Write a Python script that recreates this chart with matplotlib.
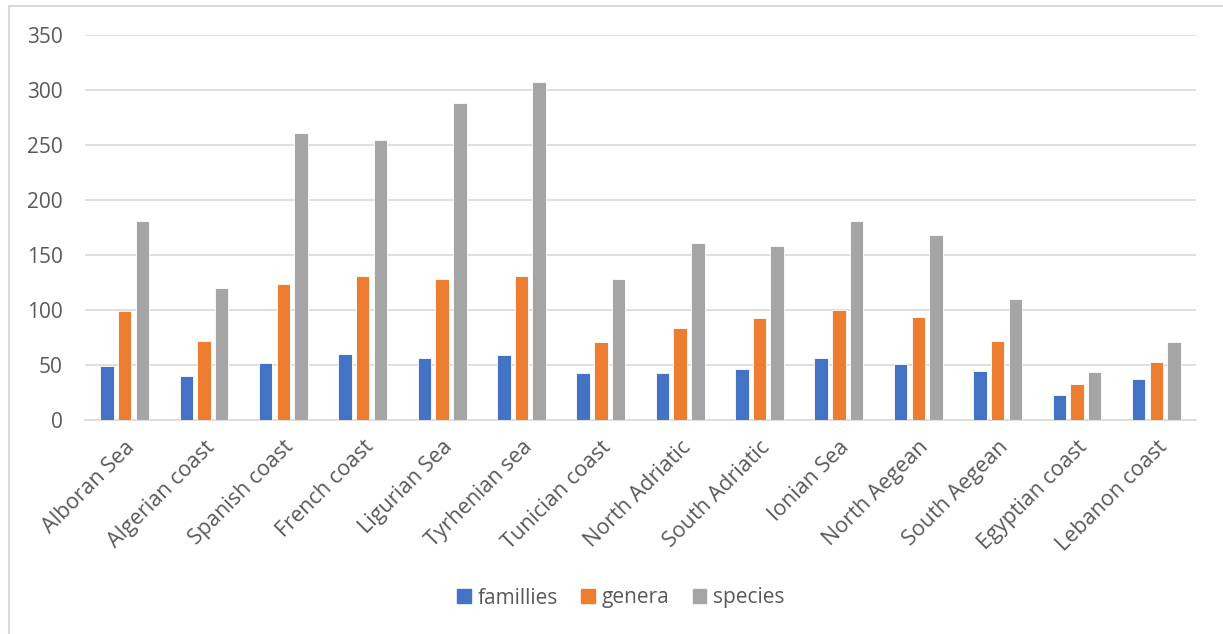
import matplotlib.pyplot as plt
import matplotlib.patches as mpatches
import numpy as np

plt.rcParams['font.family'] = ['Open Sans', 'DejaVu Sans']

regions = ["Alboran Sea", "Algerian coast", "Spanish coast", "French coast",
           "Ligurian Sea", "Tyrhenian sea", "Tunician coast", "North Adriatic",
           "South Adriatic", "Ionian Sea", "North Aegean", "South Aegean",
           "Egyptian coast", "Lebanon coast"]
famillies = [49, 40, 52, 60, 56, 59, 43, 43, 46, 56, 51, 45, 23, 37]
genera = [99, 72, 124, 131, 128, 131, 71, 84, 93, 100, 94, 72, 33, 53]
species = [181, 120, 261, 255, 288, 307, 128, 161, 158, 181, 168, 110, 44, 71]

series = [("famillies", famillies, "#4472C4"),
          ("genera", genera, "#ED7D31"),
          ("species", species, "#A5A5A5")]

txt = "#595959"
grid = "#D9D9D9"

fig = plt.figure(figsize=(12.23, 6.34), dpi=100)
ax = fig.add_axes([85 / 1223, 1 - 420 / 634, 1111 / 1223, 385 / 634])

x = np.arange(len(regions))
step = 0.223
for i, (name, vals, col) in enumerate(series):
    ax.bar(x + (i - 1) * step, vals, width=0.17, color=col, label=name,
           edgecolor="white", linewidth=0.6, zorder=3)

ax.set_xlim(-0.5, len(regions) - 0.5)
ax.set_ylim(0, 350)
ax.set_yticks(range(0, 351, 50))
ax.yaxis.grid(True, color=grid, linewidth=1.2, zorder=0)
ax.set_axisbelow(True)
for s in ["top", "right", "left"]:
    ax.spines[s].set_visible(False)
ax.spines["bottom"].set_color(grid)
ax.spines["bottom"].set_linewidth(1.2)
ax.tick_params(axis="y", length=0, pad=16, labelsize=15, labelcolor=txt)
ax.tick_params(axis="x", length=0, pad=12, labelsize=15.5, labelcolor=txt)
ax.set_xticks(x)
ax.set_xticklabels(regions, rotation=45, ha="right", va="top",
                   rotation_mode="anchor")

handles = [mpatches.Patch(color=c, label=n) for n, _, c in series]
fig.legend(handles=handles, loc="center", ncol=3, frameon=False,
           bbox_to_anchor=(621 / 1223, 1 - 598 / 634), fontsize=15,
           labelcolor=txt, handlelength=0.65, handleheight=0.65,
           handletextpad=0.35, columnspacing=1.1)

# chart border
fig.patches.append(mpatches.Rectangle((9 / 1223, -0.1), 1.2, 1 - 6 / 634 + 0.1,
                                      transform=fig.transFigure, fill=False,
                                      edgecolor=grid, linewidth=1.5))

fig.savefig("out.png", dpi=100)
